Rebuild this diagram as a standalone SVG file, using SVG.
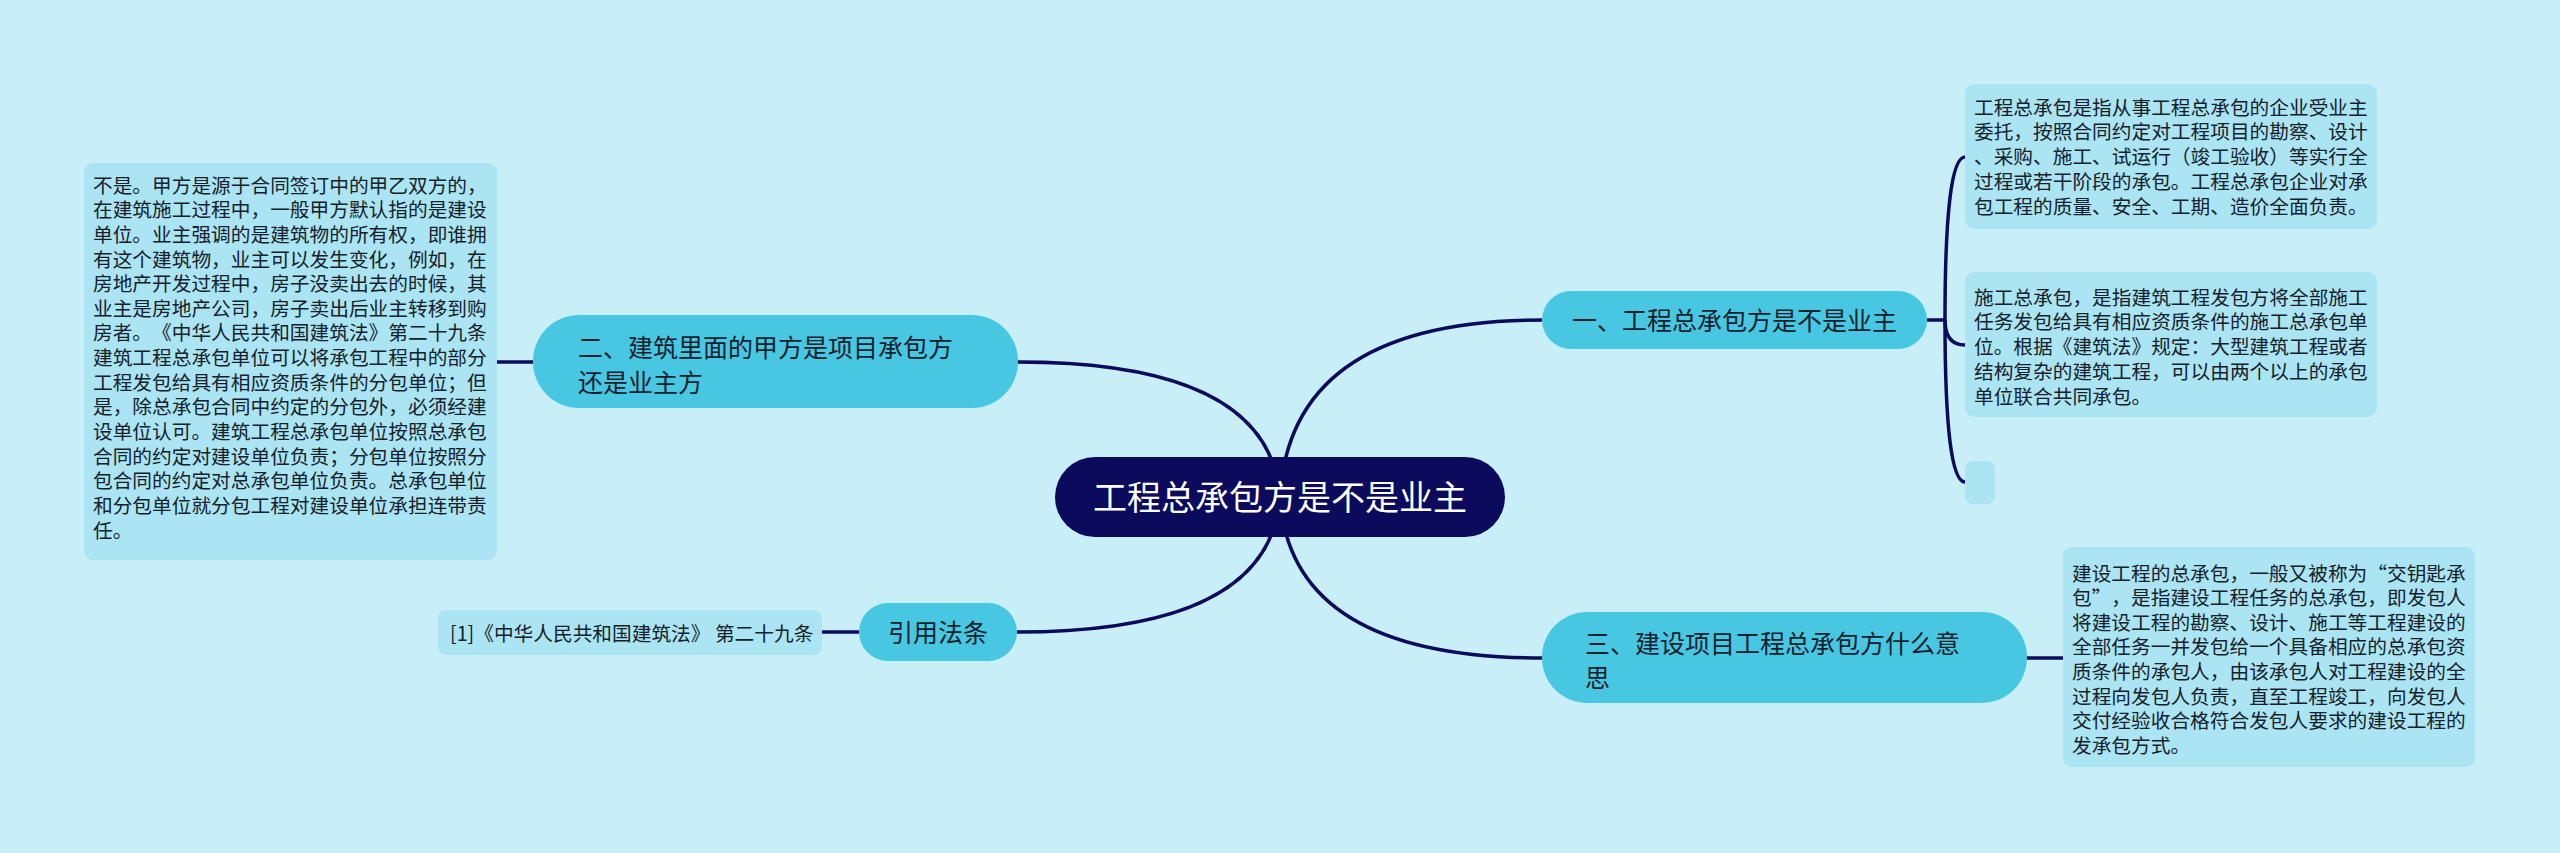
<svg xmlns="http://www.w3.org/2000/svg" width="2560" height="853" viewBox="0 0 2560 853">
<style>
.bg{fill:#c8eff7}
.conn{fill:none;stroke:#0b0a5c;stroke-width:3.5}
.main{fill:#0b0a5c}
.lvl{fill:#48c7e3}
.box{fill:#abe5f3}
text{font-family:"Noto Sans CJK SC","Noto Sans",sans-serif;text-spacing-trim:space-all}
.t-main{font-size:34px;fill:#ffffff}
.t-lvl{font-size:25px;fill:#14202a}
.t-box{font-size:19.7px;fill:#14202a}
</style>
<rect class="bg" x="0" y="0" width="2560" height="853"/>
<g id="connectors">
<path class="conn" d="M1018 362 Q1270 362 1280 497"/>
<path class="conn" d="M1017 632 Q1270 632 1280 497"/>
<path class="conn" d="M1542 320 Q1290 320 1280 497"/>
<path class="conn" d="M1542 658 Q1290 658 1280 497"/>
<path class="conn" d="M497 362 L533 362"/>
<path class="conn" d="M822 632 L859 632"/>
<path class="conn" d="M2027 658 L2063 658"/>
<path class="conn" d="M1927 320 L1945 320"/>
<path class="conn" d="M1945 320 Q1945 157 1965 157"/>
<path class="conn" d="M1945 320 Q1945 345 1965 345"/>
<path class="conn" d="M1945 320 Q1945 482 1965 482"/>
</g>
<g id="central">
<rect class="main" x="1055" y="457" width="450" height="80" rx="40"/>
<text class="t-main" x="1280" y="510" text-anchor="middle">工程总承包方是不是业主</text>
</g>
<g id="node-2">
<rect class="lvl" x="533" y="315" width="485" height="93" rx="46"/>
<text class="t-lvl" x="578" y="356.5">二、建筑里面的甲方是项目承包方</text>
<text class="t-lvl" x="578" y="391.5">还是业主方</text>
</g>
<g id="node-2-detail">
<rect class="box" x="84" y="163" width="413" height="397" rx="9"/>
<text class="t-box">
<tspan x="93" y="192.5">不是。甲方是源于合同签订中的甲乙双方的，</tspan>
<tspan x="93" y="217.2">在建筑施工过程中，一般甲方默认指的是建设</tspan>
<tspan x="93" y="241.8">单位。业主强调的是建筑物的所有权，即谁拥</tspan>
<tspan x="93" y="266.5">有这个建筑物，业主可以发生变化，例如，在</tspan>
<tspan x="93" y="291.1">房地产开发过程中，房子没卖出去的时候，其</tspan>
<tspan x="93" y="315.8">业主是房地产公司，房子卖出后业主转移到购</tspan>
<tspan x="93" y="340.4">房者。《中华人民共和国建筑法》第二十九条</tspan>
<tspan x="93" y="365.1">建筑工程总承包单位可以将承包工程中的部分</tspan>
<tspan x="93" y="389.7">工程发包给具有相应资质条件的分包单位；但</tspan>
<tspan x="93" y="414.4">是，除总承包合同中约定的分包外，必须经建</tspan>
<tspan x="93" y="439.0">设单位认可。建筑工程总承包单位按照总承包</tspan>
<tspan x="93" y="463.7">合同的约定对建设单位负责；分包单位按照分</tspan>
<tspan x="93" y="488.3">包合同的约定对总承包单位负责。总承包单位</tspan>
<tspan x="93" y="513.0">和分包单位就分包工程对建设单位承担连带责</tspan>
<tspan x="93" y="537.6">任。</tspan>
</text>
</g>
<g id="node-ref">
<rect class="lvl" x="859" y="603" width="158" height="58" rx="29"/>
<text class="t-lvl" x="938" y="641.5" text-anchor="middle">引用法条</text>
</g>
<g id="node-ref-detail">
<rect class="box" x="438" y="610" width="384" height="45" rx="8"/>
<text class="t-box" x="450" y="640.5">[1]《中华人民共和国建筑法》 第二十九条</text>
</g>
<g id="node-1">
<rect class="lvl" x="1542" y="291" width="385" height="58" rx="29"/>
<text class="t-lvl" x="1734.5" y="329.5" text-anchor="middle">一、工程总承包方是不是业主</text>
</g>
<g id="node-1-detail-a">
<rect class="box" x="1965" y="84" width="412" height="145" rx="9"/>
<text class="t-box">
<tspan x="1974" y="114.5">工程总承包是指从事工程总承包的企业受业主</tspan>
<tspan x="1974" y="139.3">委托，按照合同约定对工程项目的勘察、设计</tspan>
<tspan x="1974" y="164.1">、采购、施工、试运行（竣工验收）等实行全</tspan>
<tspan x="1974" y="188.9">过程或若干阶段的承包。工程总承包企业对承</tspan>
<tspan x="1974" y="213.7">包工程的质量、安全、工期、造价全面负责。</tspan>
</text>
</g>
<g id="node-1-detail-b">
<rect class="box" x="1965" y="272" width="412" height="145" rx="9"/>
<text class="t-box">
<tspan x="1974" y="304.5">施工总承包，是指建筑工程发包方将全部施工</tspan>
<tspan x="1974" y="329.3">任务发包给具有相应资质条件的施工总承包单</tspan>
<tspan x="1974" y="354.1">位。根据《建筑法》规定：大型建筑工程或者</tspan>
<tspan x="1974" y="378.9">结构复杂的建筑工程，可以由两个以上的承包</tspan>
<tspan x="1974" y="403.7">单位联合共同承包。</tspan>
</text>
</g>
<g id="node-1-detail-c">
<rect class="box" x="1965" y="461" width="30" height="43" rx="8"/>
</g>
<g id="node-3">
<rect class="lvl" x="1542" y="612" width="485" height="91" rx="45"/>
<text class="t-lvl" x="1585" y="652.5">三、建设项目工程总承包方什么意</text>
<text class="t-lvl" x="1585" y="686.5">思</text>
</g>
<g id="node-3-detail">
<rect class="box" x="2063" y="547" width="412" height="220" rx="9"/>
<text class="t-box">
<tspan x="2072" y="580.5">建设工程的总承包，一般又被称为“交钥匙承</tspan>
<tspan x="2072" y="605.1">包”，是指建设工程任务的总承包，即发包人</tspan>
<tspan x="2072" y="629.8">将建设工程的勘察、设计、施工等工程建设的</tspan>
<tspan x="2072" y="654.4">全部任务一并发包给一个具备相应的总承包资</tspan>
<tspan x="2072" y="679.1">质条件的承包人，由该承包人对工程建设的全</tspan>
<tspan x="2072" y="703.7">过程向发包人负责，直至工程竣工，向发包人</tspan>
<tspan x="2072" y="728.4">交付经验收合格符合发包人要求的建设工程的</tspan>
<tspan x="2072" y="753.0">发承包方式。</tspan>
</text>
</g>
</svg>
